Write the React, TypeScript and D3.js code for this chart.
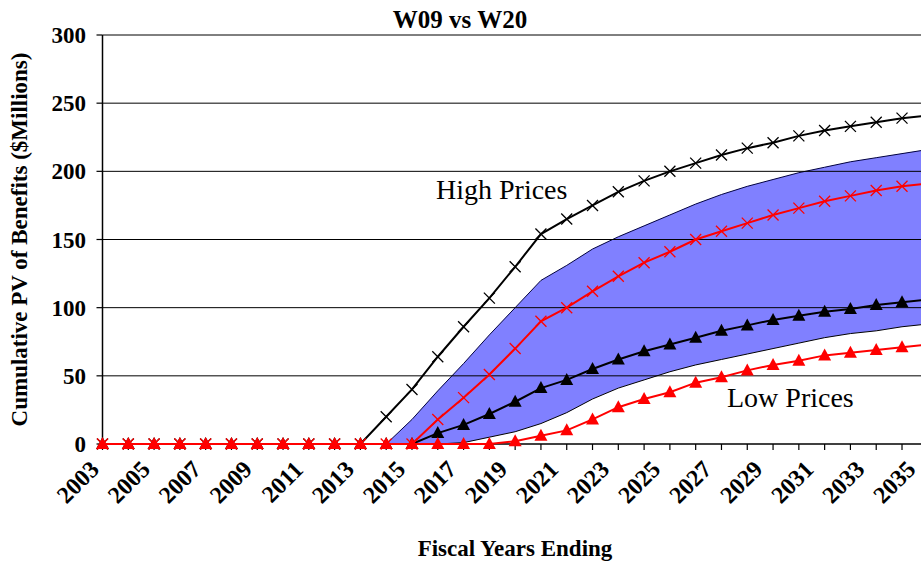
import React from "react";
import * as d3 from "d3";

const years = d3.range(2003, 2036);
const yTicks = [0, 50, 100, 150, 200, 250, 300];
const labelYears = years.filter((y) => y % 2 === 1);

const highW09 = [0,0,0,0,0,0,0,0,0,0,0, 20,40,64,86,107,130,154,165,175,185,193,200,206,212,217,221,226,230,233,236,239,241];
const highW20 = [0,0,0,0,0,0,0,0,0,0,0,0,0, 18,34,51,70,90,100,112,123,133,141,150,156,162,168,173,178,182,186,189,191];
const lowW09 = [0,0,0,0,0,0,0,0,0,0,0,0,0, 8,14,22,31,41,47,55,62,68,73,78,83,87,91,94,97,99,102,104,106];
const lowW20 = [0,0,0,0,0,0,0,0,0,0,0,0,0,0,0,0, 2,6,10,18,27,33,38,45,49,54,58,61,65,67,69,71,73];
const bandUpper = [0,0,0,0,0,0,0,0,0,0,0,0, 18,39,59,80,100,120,131,143,152,160,168,176,183,189,194,199,203,207,210,213,216];
const bandLower = [0,0,0,0,0,0,0,0,0,0,0,0,0,0, 1,5,9,15,23,33,41,47,53,58,62,66,70,74,78,81,83,86,88];

const W = 921;
const H = 562;
const X0 = 102.5;
const X1 = 927.8;
const YTOP = 35;
const YBOT = 444;

export default function App() {
  const x = d3.scalePoint<number>().domain(years).range([X0, X1]);
  const y = d3.scaleLinear().domain([0, 300]).range([YBOT, YTOP]);
  const font = "'Liberation Serif', 'Times New Roman', serif";

  const line = d3
    .line<number>()
    .x((_, i) => x(years[i]) as number)
    .y((d) => y(d));

  const area = d3
    .area<number>()
    .x((_, i) => x(years[i]) as number)
    .y0((_, i) => y(bandLower[i]))
    .y1((d) => y(d));

  const xMarker = (vals: number[], color: string, key: string) =>
    vals.map((v, i) => {
      const cx = x(years[i]) as number;
      const cy = y(v);
      const s = 5.5;
      return (
        <path
          key={key + i}
          d={`M${cx - s},${cy - s}L${cx + s},${cy + s}M${cx - s},${cy + s}L${cx + s},${cy - s}`}
          stroke={color}
          strokeWidth={1.3}
          fill="none"
        />
      );
    });

  const triMarker = (vals: number[], color: string, key: string) =>
    vals.map((v, i) => {
      const cx = x(years[i]) as number;
      const cy = y(v);
      return (
        <path
          key={key + i}
          d={`M${cx},${cy - 7}L${cx + 6.5},${cy + 5}L${cx - 6.5},${cy + 5}Z`}
          fill={color}
        />
      );
    });

  return (
    <svg
      width={W}
      height={H}
      style={{ position: "absolute", left: 0, top: 0, background: "#fff" }}
      fontFamily={font}
    >
      <rect x={0} y={0} width={W} height={H} fill="#fff" />
      {/* band */}
      <path d={area(bandUpper) || ""} fill="#8080ff" stroke="none" />
      <path d={line(bandUpper) || ""} fill="none" stroke="#000040" strokeWidth={1} />
      <path d={line(bandLower) || ""} fill="none" stroke="#000" strokeWidth={1} />
      {/* gridlines */}
      {yTicks.filter((t) => t > 0).map((t) => (
        <line key={"g" + t} x1={X0} x2={W} y1={y(t)} y2={y(t)} stroke="#000" strokeWidth={1} />
      ))}
      {/* axes */}
      <line x1={X0} x2={X0} y1={YTOP} y2={YBOT} stroke="#000" strokeWidth={1.5} />
      <line x1={X0} x2={W} y1={YBOT} y2={YBOT} stroke="#000" strokeWidth={1.5} />
      {yTicks.map((t) => (
        <line key={"yt" + t} x1={X0 - 6} x2={X0} y1={y(t)} y2={y(t)} stroke="#000" strokeWidth={1.2} />
      ))}
      {years.map((yr) => (
        <line key={"xt" + yr} x1={x(yr) as number} x2={x(yr) as number} y1={YBOT} y2={YBOT + 6} stroke="#000" strokeWidth={1.2} />
      ))}
      {/* series */}
      <path d={line(highW09) || ""} fill="none" stroke="#000" strokeWidth={2} />
      {xMarker(highW09, "#000", "hx")}
      <path d={line(lowW09) || ""} fill="none" stroke="#000" strokeWidth={2} />
      {triMarker(lowW09, "#000", "lt")}
      <path d={line(highW20) || ""} fill="none" stroke="#ff0000" strokeWidth={2} />
      {xMarker(highW20, "#ff0000", "rx")}
      <path d={line(lowW20) || ""} fill="none" stroke="#ff0000" strokeWidth={2} />
      {triMarker(lowW20, "#ff0000", "rt")}
      {/* y tick labels */}
      {yTicks.map((t) => (
        <text key={"yl" + t} x={86} y={y(t)} dy="0.35em" textAnchor="end" fontWeight="bold" fontSize={23}>
          {t}
        </text>
      ))}
      {/* x tick labels */}
      {labelYears.map((yr) => {
        const px = (x(yr) as number) - 14 - (yr - 2003) * 0.27;
        const py = 459;
        return (
          <text
            key={"xl" + yr}
            x={px}
            y={py}
            textAnchor="end"
            fontWeight="bold"
            fontSize={24}
            transform={`rotate(-45, ${px}, ${py})`}
            dy="0.7em"
          >
            {yr}
          </text>
        );
      })}
      {/* titles */}
      <text x={460} y={28} textAnchor="middle" fontWeight="bold" fontSize={25}>
        W09 vs W20
      </text>
      <text x={515} y={556} textAnchor="middle" fontWeight="bold" fontSize={23}>
        Fiscal Years Ending
      </text>
      <text
        x={0}
        y={0}
        transform={`translate(27, ${(YTOP + YBOT) / 2}) rotate(-90)`}
        textAnchor="middle"
        fontWeight="bold"
        fontSize={23}
      >
        Cumulative PV of Benefits ($Millions)
      </text>
      <text x={436} y={199} fontSize={28}>High Prices</text>
      <text x={727} y={407} fontSize={28}>Low Prices</text>
    </svg>
  );
}
